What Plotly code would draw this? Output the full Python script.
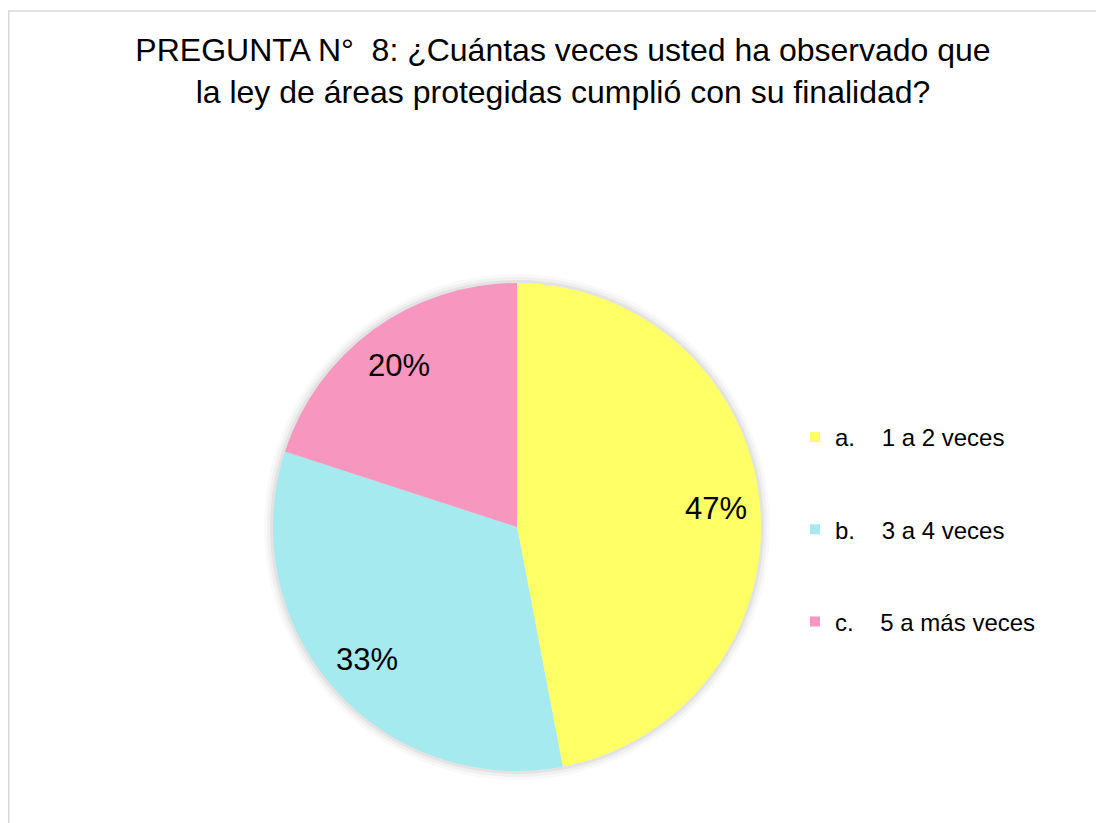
import math
import plotly.graph_objects as go

categories = ["a.    1 a 2 veces", "b.    3 a 4 veces", "c.    5 a más veces"]
percentages = [47, 33, 20]
colors = ["#FFFF66", "#A5EAEF", "#F797C0"]

W, H = 1104, 823
FONT = "Liberation Sans, Arial, sans-serif"

# pie geometry in figure pixels
cx_px, cy_px, R = 509, 519, 244
cx, cy = cx_px / W, 1 - cy_px / H

fig = go.Figure()

fig.add_trace(go.Pie(
    labels=categories,
    values=percentages,
    sort=False,
    direction="clockwise",
    rotation=0,
    marker=dict(colors=colors, line=dict(width=0)),
    textinfo="none",
    showlegend=False,
    hoverinfo="label+percent",
    domain=dict(x=[(cx_px - R) / W, (cx_px + R) / W],
                y=[1 - (cy_px + R) / H, 1 - (cy_px - R) / H]),
))

# percentage labels placed toward the outer edge of each slice (like Excel best fit)
total = sum(percentages)
cum = 0
for v in percentages:
    mid = (cum + v / 2) / total * 2 * math.pi
    cum += v
    rr = 0.82 * R
    fig.add_annotation(
        x=cx + rr * math.sin(mid) / W, y=cy + rr * math.cos(mid) / H,
        xref="paper", yref="paper", showarrow=False,
        xanchor="center", yanchor="middle",
        text=f"{v}%", font=dict(size=31, family=FONT, color="black"),
    )

# legend entries (one group each so the gap can match the reference)
for name, col in zip(categories, colors):
    fig.add_trace(go.Scatter(
        x=[None], y=[None], mode="markers", name=name,
        legendgroup=name,
        marker=dict(symbol="square", size=10, color=col),
    ))

# soft shadow around the pie
for k, op in [(9, 0.025), (6, 0.035), (3, 0.05)]:
    fig.add_shape(type="circle", xref="paper", yref="paper", layer="below",
                  x0=cx - (R + k) / W, x1=cx + (R + k) / W,
                  y0=cy - (R + k) / H, y1=cy + (R + k) / H,
                  fillcolor=f"rgba(0,0,0,{op})", line=dict(width=0))

# chart border
fig.add_shape(type="rect", xref="paper", yref="paper",
              x0=0.75 / W, x1=1.05, y0=-0.05, y1=1 - 3 / H,
              line=dict(color="#D9D9D9", width=1.5))

fig.update_layout(
    width=W, height=H,
    margin=dict(l=0, r=0, t=0, b=0),
    paper_bgcolor="white", plot_bgcolor="white",
    font=dict(family=FONT, color="black"),
    title=dict(
        text="PREGUNTA N°  8: ¿Cuántas veces usted ha observado que<br>la ley de áreas protegidas cumplió con su finalidad?",
        x=555 / W, xanchor="center", y=1 - 53 / H, yanchor="top",
        font=dict(size=32, family=FONT, color="black"),
    ),
    xaxis=dict(visible=False), yaxis=dict(visible=False),
    legend=dict(
        x=787 / W, xanchor="left", y=1 - 407 / H, yanchor="top",
        traceorder="grouped", tracegroupgap=58,
        font=dict(size=24, family=FONT, color="black"),
        itemwidth=30, bgcolor="rgba(0,0,0,0)",
    ),
)

fig.write_html("out.html")
